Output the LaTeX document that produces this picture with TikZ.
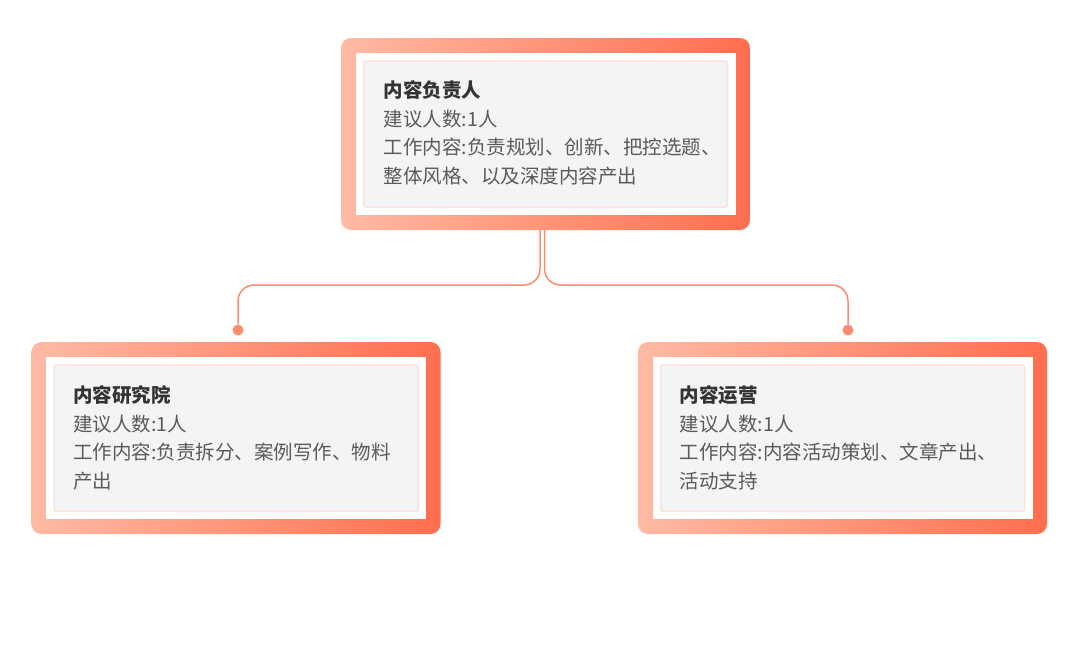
\documentclass[tikz,border=0pt]{standalone}
\usepackage{fontspec}
\newfontfamily\cjk{Noto Sans CJK SC}
\definecolor{framelight}{RGB}{255,186,164}
\definecolor{framedark}{RGB}{255,110,78}
\definecolor{cardgrey}{RGB}{243,244,246}
\definecolor{cardglow}{RGB}{251,226,219}
\definecolor{linkcol}{RGB}{255,140,112}
\definecolor{titlecol}{RGB}{51,51,51}
\definecolor{bodycol}{RGB}{90,90,90}
\tikzset{
  frame/.style={rounded corners=10pt, left color=framelight, right color=framedark,
    minimum width=409pt, minimum height=192pt, inner sep=0pt, outer sep=0pt},
  sheet/.style={fill=white, minimum width=380pt, minimum height=162pt, inner sep=0pt},
  card/.style={fill=cardgrey, draw=cardglow, line width=1.5pt, rounded corners=2pt,
    minimum width=364pt, minimum height=146pt, inner sep=0pt},
  txt/.style={anchor=base west, align=left, inner sep=0pt, text=bodycol,
    font=\cjk\fontsize{19.5}{28.5}\selectfont},
  dot/.style={circle, fill=linkcol, minimum size=11pt, inner sep=0pt},
  link/.style={draw=linkcol, line width=1.5pt, rounded corners=16pt}
}
\begin{document}
\begin{tikzpicture}[x=1pt, y=-1pt]
\useasboundingbox (0,0) rectangle (1080,653);
% top box
\node[frame] (lead) at (545.5,134) {};
\node[sheet] (leadsheet) at (lead) {};
\node[card] (leadcard) at (lead) {};
\node[txt] (leadtxt) at ([shift={(21,123)}]leadcard.north west)
  {\textcolor{titlecol}{\bfseries 内容负责人}\\建议人数:1人\\工作内容:负责规划、创新、把控选题、\\整体风格、以及深度内容产出};
% left box
\node[frame] (lab) at (236,438) {};
\node[sheet] (labsheet) at (lab) {};
\node[card] (labcard) at (lab) {};
\node[txt] (labtxt) at ([shift={(20,124)}]labcard.north west)
  {\textcolor{titlecol}{\bfseries 内容研究院}\\建议人数:1人\\工作内容:负责拆分、案例写作、物料\\产出};
% right box
\node[frame] (ops) at (842.5,438) {};
\node[sheet] (opssheet) at (ops) {};
\node[card] (opscard) at (ops) {};
\node[txt] (opstxt) at ([shift={(20,124)}]opscard.north west)
  {\textcolor{titlecol}{\bfseries 内容运营}\\建议人数:1人\\工作内容:内容活动策划、文章产出、\\活动支持};
% connectors
\node[dot] (dotL) at (238,330) {};
\node[dot] (dotR) at (848,330) {};
\draw[link] ([xshift=-5.5pt]lead.south) -- ++(0,55) -| (dotL);
\draw[link] ([xshift=-1pt]lead.south) -- ++(0,55) -| (dotR);
\end{tikzpicture}
\end{document}
